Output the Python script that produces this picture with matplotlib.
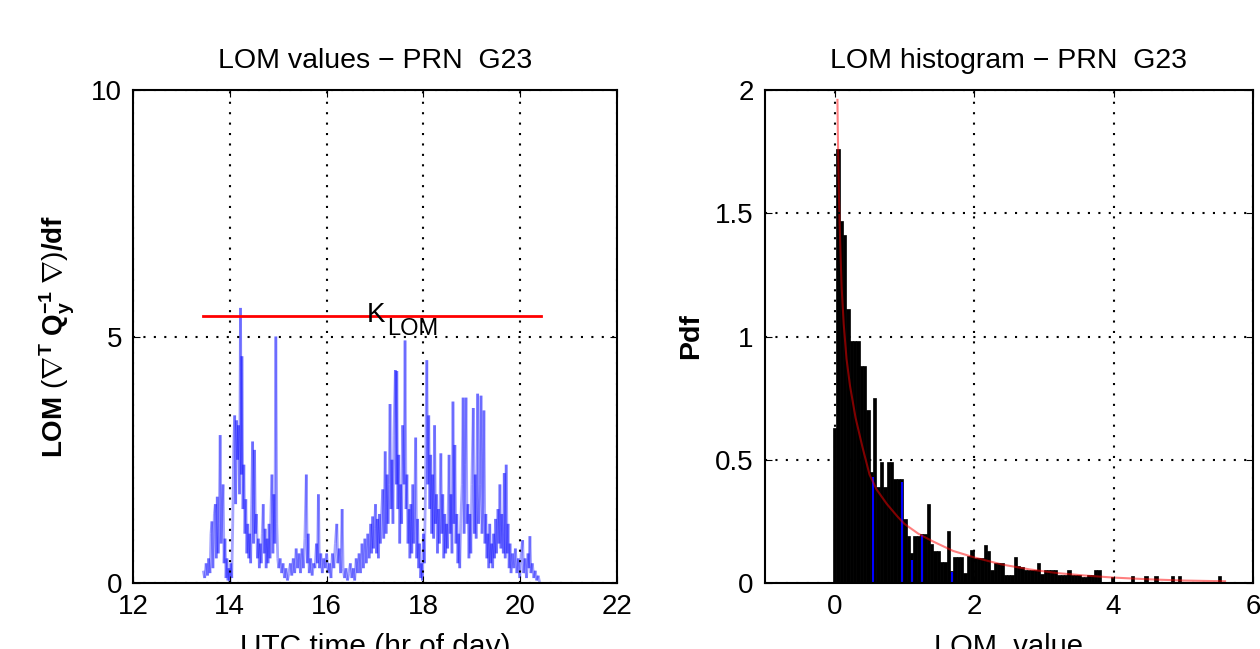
import numpy as np
import matplotlib
matplotlib.use("Agg")
from matplotlib import pyplot as plt
from matplotlib.collections import LineCollection

plt.rcParams['font.family'] = ['Liberation Sans', 'DejaVu Sans']
plt.rcParams['mathtext.fontset'] = 'custom'
plt.rcParams['mathtext.rm'] = 'Liberation Sans'
plt.rcParams['mathtext.it'] = 'Liberation Sans:italic'
plt.rcParams['mathtext.bf'] = 'Liberation Sans:bold'

# LOM time series (UTC hour, LOM value)
utc_hr = [
    13.45, 13.48, 13.51, 13.54, 13.56, 13.59, 13.61, 13.63, 13.65, 13.68,
    13.70, 13.72, 13.74, 13.76, 13.78, 13.80, 13.82, 13.84, 13.86, 13.88,
    13.90, 13.92, 13.94, 13.96, 13.98, 14.00, 14.02, 14.04, 14.06, 14.08,
    14.10, 14.12, 14.14, 14.16, 14.18, 14.20, 14.22, 14.24, 14.25, 14.27,
    14.29, 14.31, 14.33, 14.35, 14.37, 14.39, 14.41, 14.43, 14.45, 14.47,
    14.49, 14.51, 14.53, 14.55, 14.57, 14.59, 14.61, 14.63, 14.65, 14.67,
    14.69, 14.71, 14.73, 14.75, 14.77, 14.79, 14.81, 14.83, 14.85, 14.87,
    14.89, 14.91, 14.93, 14.95, 14.97, 14.99, 15.01, 15.04, 15.07, 15.10,
    15.13, 15.16, 15.19, 15.22, 15.25, 15.28, 15.31, 15.34, 15.37, 15.40,
    15.43, 15.46, 15.49, 15.52, 15.55, 15.58, 15.60, 15.62, 15.64, 15.67,
    15.70, 15.73, 15.76, 15.79, 15.81, 15.83, 15.85, 15.88, 15.91, 15.94,
    15.97, 16.00, 16.03, 16.06, 16.09, 16.12, 16.15, 16.18, 16.21, 16.23,
    16.26, 16.29, 16.32, 16.34, 16.37, 16.40, 16.43, 16.46, 16.49, 16.52,
    16.55, 16.58, 16.61, 16.64, 16.67, 16.70, 16.73, 16.76, 16.79, 16.82,
    16.85, 16.88, 16.91, 16.93, 16.95, 16.97, 16.99, 17.01, 17.03, 17.05,
    17.07, 17.09, 17.11, 17.14, 17.16, 17.18, 17.21, 17.23, 17.25, 17.27,
    17.29, 17.31, 17.33, 17.35, 17.37, 17.39, 17.42, 17.44, 17.45, 17.47,
    17.49, 17.51, 17.53, 17.55, 17.57, 17.60, 17.62, 17.64, 17.66, 17.68,
    17.70, 17.72, 17.74, 17.76, 17.78, 17.80, 17.82, 17.84, 17.86, 17.88,
    17.90, 17.92, 17.94, 17.96, 17.98, 18.00, 18.02, 18.04, 18.07, 18.09,
    18.11, 18.13, 18.15, 18.17, 18.19, 18.21, 18.23, 18.25, 18.27, 18.29,
    18.31, 18.33, 18.36, 18.38, 18.40, 18.42, 18.44, 18.46, 18.48, 18.50,
    18.53, 18.55, 18.57, 18.59, 18.61, 18.63, 18.65, 18.67, 18.69, 18.71,
    18.73, 18.75, 18.77, 18.80, 18.82, 18.84, 18.86, 18.88, 18.90, 18.92,
    18.94, 18.96, 18.98, 19.00, 19.03, 19.05, 19.07, 19.09, 19.12, 19.14,
    19.17, 19.19, 19.21, 19.23, 19.25, 19.27, 19.29, 19.31, 19.33, 19.35,
    19.37, 19.39, 19.41, 19.43, 19.45, 19.47, 19.49, 19.51, 19.54, 19.56,
    19.58, 19.60, 19.62, 19.65, 19.67, 19.69, 19.71, 19.73, 19.75, 19.77,
    19.79, 19.81, 19.84, 19.87, 19.90, 19.93, 19.96, 19.99, 20.02, 20.05,
    20.07, 20.10, 20.13, 20.16, 20.18, 20.20, 20.22, 20.25, 20.28, 20.31,
    20.34, 20.37, 20.40,
]
lom = [
    0.25, 0.10, 0.40, 0.15, 0.50, 0.20, 1.00, 1.25, 0.30, 1.40,
    1.60, 0.50, 1.75, 0.60, 1.20, 3.00, 0.80, 1.50, 2.00, 0.40,
    0.90, 0.10, 0.50, 0.05, 0.30, 0.02, 0.40, 0.10, 1.20, 2.80,
    3.40, 1.60, 3.30, 2.50, 3.20, 1.80, 5.58, 2.20, 4.60, 1.50,
    2.40, 1.00, 1.70, 0.60, 1.20, 0.50, 1.00, 0.40, 1.60, 2.87,
    0.80, 2.70, 1.00, 1.40, 0.50, 0.90, 0.30, 0.80, 0.40, 1.00,
    1.60, 0.60, 1.10, 0.30, 0.90, 0.40, 1.20, 0.50, 1.50, 2.20,
    0.60, 1.80, 0.80, 5.00, 1.20, 0.50, 0.30, 0.50, 0.20, 0.40,
    0.10, 0.30, 0.05, 0.20, 0.40, 0.15, 0.50, 0.20, 0.70, 0.30,
    0.60, 0.20, 0.70, 0.30, 0.90, 2.20, 0.40, 1.00, 0.20, 0.50,
    0.15, 0.40, 0.30, 0.80, 0.40, 1.80, 0.30, 0.60, 0.20, 0.50,
    0.30, 0.60, 0.20, 0.40, 0.10, 0.60, 0.30, 0.80, 1.20, 0.40,
    0.70, 0.20, 1.50, 0.30, 0.10, 0.30, 0.05, 0.20, 0.40, 0.10,
    0.30, 0.05, 0.50, 0.20, 0.60, 0.20, 0.80, 0.30, 0.90, 0.40,
    1.00, 0.50, 1.20, 0.60, 1.35, 0.70, 1.10, 1.60, 0.60, 1.30,
    0.50, 1.40, 0.80, 1.50, 1.90, 0.90, 2.67, 1.00, 2.20, 1.20,
    2.00, 3.63, 1.50, 2.50, 1.20, 3.00, 4.32, 2.00, 4.30, 1.50,
    2.60, 0.80, 2.00, 1.20, 3.20, 2.00, 4.92, 1.50, 2.20, 0.80,
    1.50, 0.50, 1.60, 0.60, 2.00, 0.80, 1.50, 2.95, 0.50, 1.30,
    0.30, 0.80, 0.10, 0.40, 0.05, 1.00, 0.40, 1.80, 4.52, 2.00,
    3.40, 1.50, 2.60, 1.00, 2.20, 0.90, 3.20, 1.20, 1.80, 0.60,
    1.50, 0.80, 2.63, 1.00, 1.80, 0.50, 1.40, 0.60, 1.20, 0.70,
    2.60, 1.00, 1.80, 0.60, 3.68, 1.20, 2.80, 0.80, 1.40, 0.40,
    1.00, 0.30, 1.20, 2.00, 3.76, 1.00, 2.40, 3.76, 1.20, 1.60,
    0.50, 1.40, 0.60, 2.00, 3.55, 1.00, 2.20, 0.90, 3.84, 1.20,
    2.00, 3.80, 1.00, 1.60, 3.50, 0.80, 1.40, 0.50, 1.00, 0.30,
    1.20, 0.40, 0.80, 0.30, 1.00, 0.50, 1.30, 0.60, 1.50, 0.80,
    2.00, 0.70, 1.40, 0.60, 2.23, 0.50, 2.40, 0.60, 1.20, 0.30,
    0.80, 0.20, 0.60, 0.30, 0.70, 0.20, 0.50, 0.10, 0.60, 0.87,
    0.20, 0.50, 0.10, 0.60, 0.30, 0.95, 0.20, 0.40, 0.10, 0.25,
    0.05, 0.15, 0.02,
]

# LOM threshold line
k_lom = 5.42
k_lom_span = [13.45, 20.42]

# histogram: bar heights (pdf), bins centred on multiples of the bin width
bin_width = 0.048
pdf_heights = [
    0.63, 1.76, 1.47, 1.41, 1.11, 0.98, 0.98, 0.98, 0.88, 0.88,
    0.70, 0.45, 0.75, 0.39, 0.49, 0.39, 0.49, 0.49, 0.42, 0.42,
    0.42, 0.26, 0.19, 0.12, 0.19, 0.19, 0.20, 0.20, 0.32, 0.16,
    0.13, 0.13, 0.087, 0.087, 0.21, 0.05, 0.107, 0.107, 0.107, 0.04,
    0.11, 0.134, 0.10, 0.10, 0.10, 0.154, 0.13, 0.053, 0.08, 0.08,
    0.08, 0.032, 0.032, 0.032, 0.104, 0.07, 0.066, 0.053, 0.053, 0.053,
    0.053, 0.082, 0.036, 0.053, 0.053, 0.053, 0.053, 0.032, 0.032, 0.032,
    0.053, 0.032, 0.032, 0.032, 0.026, 0.026, 0.032, 0.032, 0.053, 0.053,
    0.0, 0.0, 0.0, 0.025, 0.0, 0.0, 0.0, 0.0, 0.0, 0.028,
    0.0, 0.0, 0.0, 0.028, 0.0, 0.0, 0.028, 0.0, 0.0, 0.0,
    0.0, 0.028, 0.0, 0.028, 0.0, 0.0, 0.0, 0.0, 0.0, 0.0,
    0.0, 0.0, 0.0, 0.0, 0.0, 0.03,
]

# blue bar edges showing through the black bars
blue_x = [0.544, 0.964, 1.107, 1.25, 1.68]
blue_h = [0.43, 0.41, 0.093, 0.195, 0.046]

# red reference pdf curve
curve_x = [0.040, 0.045, 0.05, 0.06, 0.07, 0.085, 0.10, 0.13, 0.17, 0.22,
           0.30, 0.40, 0.50, 0.60, 0.75, 0.90, 1.00, 1.20, 1.40, 1.70,
           2.00, 2.40, 2.80, 3.20, 3.60, 4.00, 4.50, 5.00, 5.60]
curve_y = [1.96, 1.84, 1.75, 1.59, 1.47, 1.33, 1.20, 1.05, 0.91, 0.80,
           0.67, 0.55, 0.44, 0.38, 0.32, 0.27, 0.24, 0.20, 0.17, 0.13,
           0.104, 0.075, 0.055, 0.040, 0.030, 0.022, 0.015, 0.010, 0.007]

fig = plt.figure(figsize=(12.6, 6.49), dpi=100)
ax1 = fig.add_axes([0.1056, 0.1017, 0.3841, 0.7596])
ax2 = fig.add_axes([0.6071, 0.1017, 0.3873, 0.7596])

# left panel
pts = np.column_stack([utc_hr, lom])
segs = np.stack([pts[:-1], pts[1:]], axis=1)
lc = LineCollection(segs, colors='blue', alpha=0.35, linewidths=2.0)
ax1.add_collection(lc)
ax1.plot(k_lom_span, [k_lom, k_lom], color='red', lw=2)
ax1.text(16.83, 5.29, 'K', fontsize=20)
ax1.text(17.25, 5.03, 'LOM', fontsize=17)
ax1.set_xlim(12, 22)
ax1.set_ylim(0, 10)
ax1.set_xticks([12, 14, 16, 18, 20, 22])
ax1.set_yticks([0, 5, 10])
ax1.set_title('LOM values \u2212 PRN  G23', fontsize=20.5, pad=16)
ax1.set_xlabel('UTC time (hr of day)', fontsize=21.5, labelpad=9)
ax1.set_ylabel(r'LOM $(\mathbf{\nabla^T\ Q_y^{-1}\ \nabla})$/df',
               fontsize=20, fontweight='bold', labelpad=10)

# right panel
centers = bin_width * np.arange(len(pdf_heights))
ax2.bar(centers, pdf_heights, width=bin_width, color='black',
        edgecolor='black', linewidth=0.5)
ax2.vlines(blue_x, 0, blue_h, colors='blue', lw=1.5)
ax2.plot(curve_x, curve_y, color='red', alpha=0.5, lw=1.5)
ax2.set_xlim(-1, 6)
ax2.set_ylim(0, 2)
ax2.set_xticks([0, 2, 4, 6])
ax2.set_yticks([0, 0.5, 1, 1.5, 2])
ax2.set_yticklabels(['0', '0.5', '1', '1.5', '2'])
ax2.set_title('LOM histogram \u2212 PRN  G23', fontsize=20.5, pad=16)
ax2.set_xlabel('LOM  value', fontsize=21, labelpad=9)
ax2.set_ylabel('Pdf', fontsize=20.5, fontweight='bold', labelpad=8)

for ax in (ax1, ax2):
    ax.set_axisbelow(False)
    ax.grid(True, color='black', linestyle=(0, (1, 4)), linewidth=1.5)
    ax.tick_params(direction='in', length=5, labelsize=20, pad=8,
                   top=True, right=True)
    for sp in ax.spines.values():
        sp.set_linewidth(1.5)

fig.savefig('out.png', dpi=100)
